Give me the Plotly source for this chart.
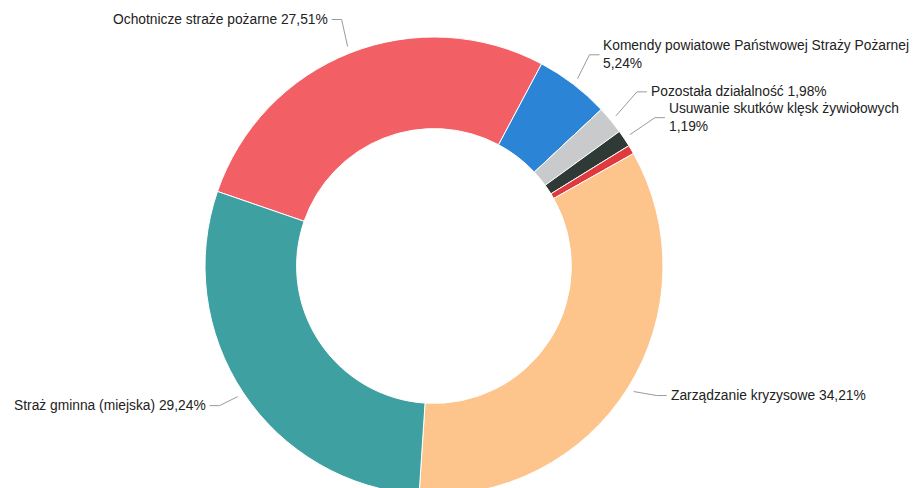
import math
import plotly.graph_objects as go

# ---- data ----
labels = [
    "Ochotnicze straże pożarne",
    "Komendy powiatowe Państwowej Straży Pożarnej",
    "Pozostała działalność",
    "Usuwanie skutków klęsk żywiołowych",
    "Inne",
    "Zarządzanie kryzysowe",
    "Straż gminna (miejska)",
]
values = [27.51, 5.24, 1.98, 1.19, 0.63, 34.21, 29.24]
label_texts = [
    "Ochotnicze straże pożarne 27,51%",
    "Komendy powiatowe Państwowej Straży Pożarnej<br>5,24%",
    "Pozostała działalność 1,98%",
    "Usuwanie skutków klęsk żywiołowych<br>1,19%",
    "",
    "Zarządzanie kryzysowe 34,21%",
    "Straż gminna (miejska) 29,24%",
]
colors = ["#F25F64", "#2B84D6", "#C9CACC", "#2F3A37", "#E03A3E", "#FDC48C", "#3FA0A2"]

# ---- layout geometry (screen pixels; page body has an 8px margin) ----
W, H = 920, 488
PAGE = 8
CX, CY, R = 434, 266, 229
ROT = -71
# label offsets from leader start (pixels)
offsets = [(-16, -27), (22, -24), (31, -24), (35, -17), None, (33, 4), (-28, 9)]

def px2paper(x, y):
    return (x - PAGE) / W, 1 - (y - PAGE) / H

x0, y1 = px2paper(CX - R, CY - R)
x1, y0 = px2paper(CX + R, CY + R)

fig = go.Figure(go.Pie(
    labels=labels, values=values, hole=0.6, sort=False, direction="clockwise",
    rotation=ROT, textinfo="none", hoverinfo="label+percent",
    marker=dict(colors=colors, line=dict(color="white", width=1)),
    domain=dict(x=[x0, x1], y=[max(0, y0), min(1, y1)]),
    showlegend=False,
))

total = sum(values)
cum = 0.0
shapes, annots = [], []
for v, txt, off in zip(values, label_texts, offsets):
    mid = ROT + (cum + v / 2) / total * 360
    cum += v
    if not txt or off is None:
        continue
    th = math.radians(mid)
    p1x = CX + 1.03 * R * math.sin(th)
    p1y = CY - 1.03 * R * math.cos(th)
    tx, ty = p1x + off[0], p1y + off[1]
    right = off[0] > 0
    ex = tx - 10 if right else tx + 10
    a = px2paper(p1x, p1y); b = px2paper(ex, ty); c = px2paper(tx, ty)
    shapes.append(dict(type="path", xref="paper", yref="paper",
                       path=f"M {a[0]} {a[1]} L {b[0]} {b[1]} L {c[0]} {c[1]}",
                       line=dict(color="#9a9a9a", width=1)))
    annots.append(dict(x=c[0], y=c[1], xref="paper", yref="paper", text=txt,
                       showarrow=False, xanchor="left" if right else "right",
                       yanchor="middle", align="left", xshift=2 if right else -2,
                       font=dict(family="Liberation Sans, Arial, sans-serif", size=13.8, color="#222")))

fig.update_layout(
    width=W, height=H, margin=dict(l=0, r=0, t=0, b=0),
    paper_bgcolor="white", plot_bgcolor="white",
    shapes=shapes, annotations=annots,
)
fig.write_html("out.html")
